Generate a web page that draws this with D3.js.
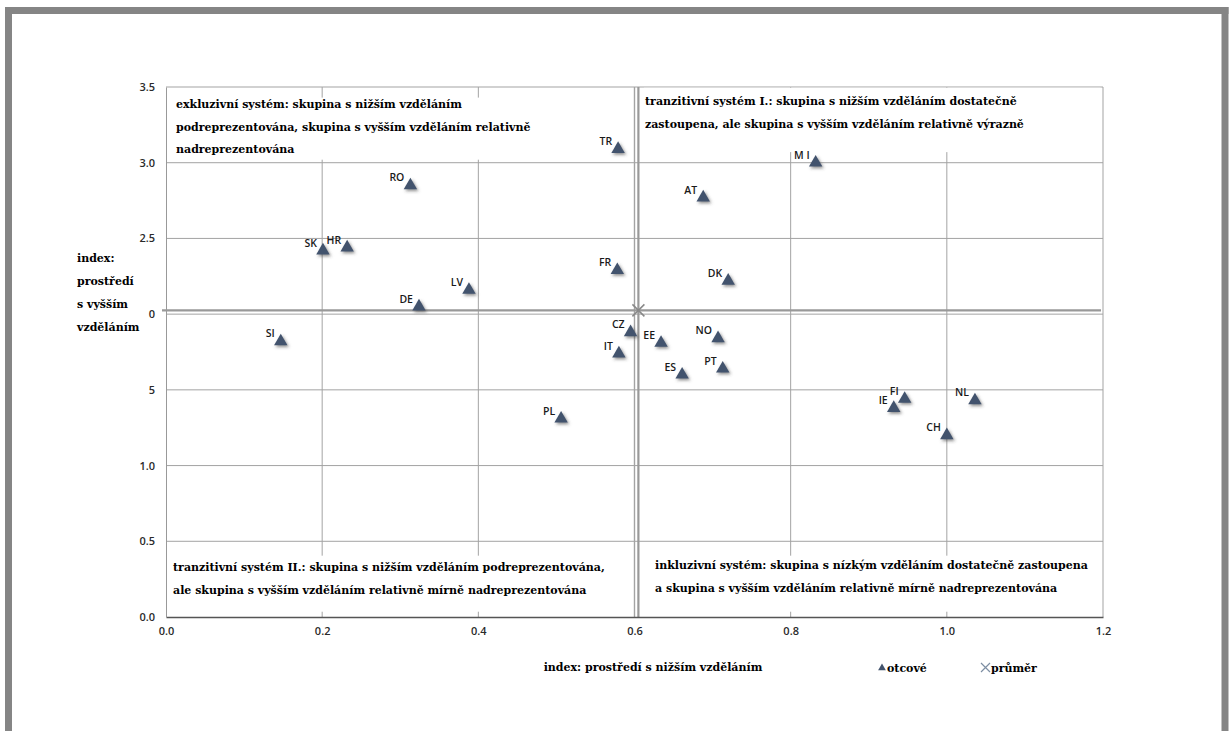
<!DOCTYPE html>
<html>
<head>
<meta charset="utf-8">
<script src="https://cdn.jsdelivr.net/npm/d3@7"></script>
<style>
  html, body { margin: 0; padding: 0; background: #fff; }
  svg { display: block; }
</style>
</head>
<body>
<div id="chart"></div>
<script>
// Data
const countries = ['TR', 'M I', 'RO', 'AT', 'SK', 'HR', 'FR', 'DK', 'LV', 'DE', 'CZ', 'SI',
  'EE', 'NO', 'IT', 'PT', 'ES', 'FI', 'NL', 'IE', 'CH', 'PL']
const lowerEdu = [0.579, 0.832, 0.313, 0.688, 0.201, 0.232, 0.578, 0.720, 0.388, 0.324, 0.595, 0.147,
  0.634, 0.707, 0.580, 0.713, 0.661, 0.946, 1.036, 0.932, 1.000, 0.506]
const higherEdu = [3.09, 3.00, 2.85, 2.77, 2.42, 2.44, 2.29, 2.22, 2.16, 2.05, 1.88, 1.82,
  1.81, 1.84, 1.74, 1.64, 1.60, 1.44, 1.43, 1.38, 1.20, 1.31]
const meanPoint = [0.605, 2.025]

const xTicks = [0, 0.2, 0.4, 0.6, 0.8, 1.0, 1.2]
const xTickLabels = ['0.0', '0.2', '0.4', '0.6', '0.8', '1.0', '1.2']
const yTicks = [0, 0.5, 1.0, 1.5, 2.0, 2.5, 3.0, 3.5]
const yTickLabels = ['0.0', '0.5', '1.0', '5', '0', '2.5', '3.0', '3.5']

const quadrantTexts = [
  ['exkluzivní systém: skupina s nižším vzděláním',
   'podreprezentována, skupina s vyšším vzděláním relativně',
   'nadreprezentována'],
  ['tranzitivní systém I.: skupina s nižším vzděláním dostatečně',
   'zastoupena, ale skupina s vyšším vzděláním relativně výrazně'],
  ['tranzitivní systém II.: skupina s nižším vzděláním podreprezentována,',
   'ale skupina s vyšším vzděláním relativně mírně nadreprezentována'],
  ['inkluzivní systém: skupina s nízkým vzděláním dostatečně zastoupena',
   'a skupina s vyšším vzděláním relativně mírně nadreprezentována']
]
const xTitle = 'index: prostředí s nižším vzděláním'
const yTitle = ['index:', 'prostředí', 's vyšším', 'vzděláním']
const legendItems = ['otcové', 'průměr']

const dataset = countries.map((c, i) => ({ name: c, x: lowerEdu[i], y: higherEdu[i] }))

// Dimensions
const dimensions = {
  width: 1230,
  height: 731,
  left: 166,
  right: 1103,
  top: 87,
  bottom: 617
}

const serif = '"DejaVu Serif", "Liberation Serif", serif'
const sans = '"Open Sans", "Liberation Sans", sans-serif'
const gridColor = '#a3a3a3'

const svg = d3.select('#chart')
  .append('svg')
  .attr('width', dimensions.width)
  .attr('height', dimensions.height)

const defs = svg.append('defs')
const shadow = defs.append('filter')
  .attr('id', 'shadow')
  .attr('x', '-50%').attr('y', '-50%')
  .attr('width', '200%').attr('height', '200%')
shadow.append('feDropShadow')
  .attr('dx', 1.5).attr('dy', 1.8)
  .attr('stdDeviation', 1.4)
  .attr('flood-color', '#444')
  .attr('flood-opacity', 0.6)

// Outer frame
const frame = svg.append('g')
  .attr('stroke', '#858585')
  .attr('stroke-width', 7)
  .attr('fill', 'none')
frame.append('path').attr('d', `M5,10.5 H1228.5`)
frame.append('path').attr('d', `M8.5,7 V731`)
frame.append('path').attr('d', `M1225,7 V731`)

// Scales
const xScale = d3.scaleLinear()
  .domain([0, 1.2])
  .range([dimensions.left, dimensions.right])

const yScale = d3.scaleLinear()
  .domain([0, 3.5])
  .range([dimensions.bottom, dimensions.top])

// Gridlines
const grid = svg.append('g')
grid.selectAll('.vgrid')
  .data(xTicks.slice(1))
  .join('line')
  .attr('x1', d => xScale(d)).attr('x2', d => xScale(d))
  .attr('y1', dimensions.top).attr('y2', dimensions.bottom)
  .attr('stroke', gridColor)
  .attr('stroke-width', 1)
grid.selectAll('.hgrid')
  .data(yTicks.slice(1))
  .join('line')
  .attr('x1', dimensions.left).attr('x2', dimensions.right)
  .attr('y1', d => yScale(d)).attr('y2', d => yScale(d))
  .attr('stroke', gridColor)
  .attr('stroke-width', 1)

// Quadrant text boxes (white, hide gridlines behind text)
const boxes = [
  { x0: 0.003, x1: 0.596, y0: 3.43, y1: 3.02 },
  { x0: 0.612, x1: 1.197, y0: 3.495, y1: 3.07 },
  { x0: 0.003, x1: 0.596, y0: 0.405, y1: 0.035 },
  { x0: 0.612, x1: 1.197, y0: 0.405, y1: 0.035 }
]
svg.append('g').selectAll('rect')
  .data(boxes)
  .join('rect')
  .attr('x', d => xScale(d.x0))
  .attr('y', d => yScale(d.y0))
  .attr('width', d => xScale(d.x1) - xScale(d.x0))
  .attr('height', d => yScale(d.y1) - yScale(d.y0))
  .attr('fill', '#fff')

// 0.6 gridline redrawn over boxes (double line with mean)
svg.append('line')
  .attr('x1', xScale(0.6)).attr('x2', xScale(0.6))
  .attr('y1', dimensions.top).attr('y2', dimensions.bottom)
  .attr('stroke', gridColor)
  .attr('stroke-width', 1.4)

// Mean lines
svg.append('line')
  .attr('x1', xScale(meanPoint[0])).attr('x2', xScale(meanPoint[0]))
  .attr('y1', dimensions.top).attr('y2', dimensions.bottom)
  .attr('stroke', '#999')
  .attr('stroke-width', 2.2)
svg.append('line')
  .attr('x1', dimensions.left - 4).attr('x2', dimensions.right - 2)
  .attr('y1', yScale(meanPoint[1])).attr('y2', yScale(meanPoint[1]))
  .attr('stroke', '#999')
  .attr('stroke-width', 2.2)

// Axes
const xAxis = d3.axisBottom(xScale)
  .tickValues(xTicks)
  .tickFormat((d, i) => xTickLabels[i])
  .tickSize(0)
  .tickPadding(10)
const xAxisGroup = svg.append('g')
  .attr('transform', `translate(0,${dimensions.bottom})`)
  .call(xAxis)
xAxisGroup.select('.domain').attr('stroke', '#555').attr('stroke-width', 1.4)

const yAxis = d3.axisLeft(yScale)
  .tickValues(yTicks)
  .tickFormat((d, i) => yTickLabels[i])
  .tickSize(0)
  .tickPadding(11)
const yAxisGroup = svg.append('g')
  .attr('transform', `translate(${dimensions.left},0)`)
  .call(yAxis)
yAxisGroup.select('.domain').attr('stroke', '#999').attr('stroke-width', 1)

svg.selectAll('.tick text')
  .attr('font-family', sans)
  .attr('font-size', 11)
  .attr('font-weight', 600)
  .attr('fill', '#2a2a2a')

// Quadrant texts
const quadStarts = [
  { x: 176, y: 108, lh: 22.5 },
  { x: 645, y: 105, lh: 23 },
  { x: 173, y: 571, lh: 23 },
  { x: 655, y: 569, lh: 23 }
]
quadrantTexts.forEach((lines, qi) => {
  const t = svg.append('text')
    .attr('font-family', serif)
    .attr('font-weight', 'bold')
    .attr('font-size', 11)
    .attr('fill', '#000')
  lines.forEach((line, li) => {
    t.append('tspan')
      .attr('x', quadStarts[qi].x)
      .attr('y', quadStarts[qi].y + li * quadStarts[qi].lh)
      .text(line)
  })
})

// Points
svg.append('g').selectAll('path')
  .data(dataset)
  .join('path')
  .attr('d', d3.symbol(d3.symbolTriangle).size(78))
  .attr('transform', d => `translate(${xScale(d.x)},${yScale(d.y)})`)
  .attr('fill', '#42536d')
  .attr('filter', 'url(#shadow)')

svg.append('g').selectAll('text')
  .data(dataset)
  .join('text')
  .attr('x', d => xScale(d.x) - 6)
  .attr('y', d => yScale(d.y) - 4)
  .attr('text-anchor', 'end')
  .attr('font-family', sans)
  .attr('font-size', 10.5)
  .attr('font-weight', 600)
  .attr('fill', '#1a1a1a')
  .text(d => d.name)

// Mean marker
const mx = xScale(meanPoint[0])
const my = yScale(meanPoint[1])
svg.append('path')
  .attr('d', `M${mx - 6},${my - 6} L${mx + 6},${my + 6} M${mx - 6},${my + 6} L${mx + 6},${my - 6}`)
  .attr('stroke', '#888')
  .attr('stroke-width', 1.5)

// Axis titles
svg.append('text')
  .attr('x', 653)
  .attr('y', 671)
  .attr('text-anchor', 'middle')
  .attr('font-family', serif)
  .attr('font-weight', 'bold')
  .attr('font-size', 11)
  .attr('fill', '#000')
  .text(xTitle)

const yT = svg.append('text')
  .attr('font-family', serif)
  .attr('font-weight', 'bold')
  .attr('font-size', 11)
  .attr('fill', '#000')
yTitle.forEach((line, i) => {
  yT.append('tspan')
    .attr('x', 77)
    .attr('y', 262 + i * 23)
    .text(line)
})

// Legend
const legend = svg.append('g')
legend.append('path')
  .attr('d', d3.symbol(d3.symbolTriangle).size(26))
  .attr('transform', 'translate(882,668)')
  .attr('fill', '#42536d')
legend.append('path')
  .attr('d', 'M981,663 L990,672 M981,672 L990,663')
  .attr('stroke', '#7d8ea3')
  .attr('stroke-width', 1.2)
legend.selectAll('text')
  .data(legendItems)
  .join('text')
  .attr('x', (d, i) => i === 0 ? 887 : 991)
  .attr('y', 672)
  .attr('font-family', serif)
  .attr('font-weight', 'bold')
  .attr('font-size', 11)
  .attr('fill', '#000')
  .text(d => d)
</script>
</body>
</html>
